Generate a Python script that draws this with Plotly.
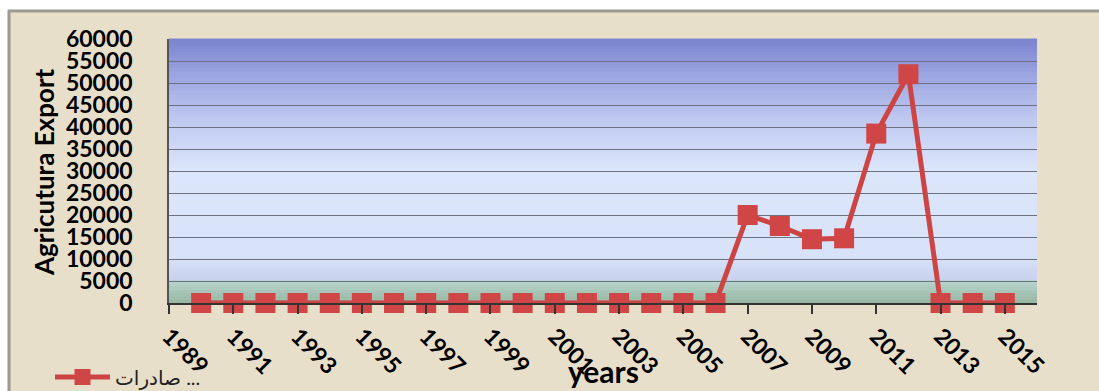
import plotly.graph_objects as go

years = [1990, 1991, 1992, 1993, 1994, 1995, 1996, 1997, 1998, 1999, 2000,
         2001, 2002, 2003, 2004, 2005, 2006, 2007, 2008, 2009, 2010, 2011,
         2012, 2013, 2014, 2015]
exports = [0, 0, 0, 0, 0, 0, 0, 0, 0, 0, 0,
           0, 0, 0, 0, 0, 0, 20000, 17500, 14500, 14700, 38500,
           52000, 0, 0, 0]
tick_years = [1989, 1991, 1993, 1995, 1997, 1999, 2001, 2003, 2005, 2007,
              2009, 2011, 2013, 2015]
y_ticks = [0, 5000, 10000, 15000, 20000, 25000, 30000, 35000, 40000, 45000,
           50000, 55000, 60000]
series_name = "صادرات ..."
x_title = "years"
y_title = "Agricutura Export"

W, H = 1099, 391
L, R, T, B = 169, 62, 39, 88
PW, PH = W - L - R, H - T - B

def px_x(px):
    return (px - L) / PW

def px_y(py):
    return (H - B - py) / PH

# gradient of plot background (fraction from bottom, color)
stops = [(0.0, (150, 182, 160)), (0.08, (182, 212, 204)), (0.09, (200, 210, 238)),
         (0.18, (216, 226, 248)), (0.5, (220, 230, 251)), (0.7, (190, 200, 240)),
         (0.85, (158, 168, 226)), (1.0, (122, 132, 206))]

def color_at(f):
    for (f0, c0), (f1, c1) in zip(stops[:-1], stops[1:]):
        if f0 <= f <= f1:
            t = 0 if f1 == f0 else (f - f0) / (f1 - f0)
            return "rgb(%d,%d,%d)" % tuple(round(a + (b - a) * t) for a, b in zip(c0, c1))
    return "rgb(%d,%d,%d)" % stops[-1][1]

shapes = []
n = 80
for i in range(n):
    f0, f1 = i / n, (i + 1) / n
    shapes.append(dict(type="rect", xref="x domain", yref="y domain",
                       x0=0, x1=1, y0=f0, y1=f1 + 0.002, layer="below",
                       line=dict(width=0), fillcolor=color_at((f0 + f1) / 2)))
# white strips + gray frame
shapes.append(dict(type="rect", xref="paper", yref="paper", x0=px_x(0), x1=px_x(W),
                   y0=px_y(10), y1=px_y(0), layer="below", line=dict(width=0), fillcolor="white"))
shapes.append(dict(type="rect", xref="paper", yref="paper", x0=px_x(0), x1=px_x(8),
                   y0=px_y(H), y1=px_y(0), layer="below", line=dict(width=0), fillcolor="white"))
shapes.append(dict(type="line", xref="paper", yref="paper", x0=px_x(8), x1=px_x(W),
                   y0=px_y(11), y1=px_y(11), layer="below", line=dict(width=3, color="#9c9a90")))
shapes.append(dict(type="line", xref="paper", yref="paper", x0=px_x(9), x1=px_x(9),
                   y0=px_y(H), y1=px_y(10), layer="below", line=dict(width=3, color="#9c9a90")))

fig = go.Figure()
fig.add_trace(go.Scatter(
    x=years, y=exports, mode="lines+markers", name=series_name,
    line=dict(color="#cc4444", width=5),
    marker=dict(symbol="square", size=20, color="#d04646", line=dict(width=0)),
    cliponaxis=False,
))

fig.update_layout(
    width=W, height=H,
    margin=dict(l=L, r=R, t=T, b=B, autoexpand=False),
    paper_bgcolor="#e8dfcb",
    plot_bgcolor="#dce6fb",
    shapes=shapes,
    font=dict(family="Lato, 'DejaVu Sans', sans-serif", color="black"),
    showlegend=True,
    legend=dict(x=px_x(50), y=px_y(377), xanchor="left", yanchor="middle",
                bgcolor="rgba(0,0,0,0)", font=dict(size=20, color="#222"),
                itemwidth=55),
    xaxis=dict(
        range=[1989, 2016], tickvals=tick_years, ticktext=[str(v) for v in tick_years],
        tickangle=45, tickfont=dict(size=23, weight="bold"),
        ticks="outside", ticklen=9, tickcolor="#333", tickwidth=1.5,
        ticklabelstandoff=0, automargin=False,
        showgrid=False, zeroline=False, showline=True, linecolor="#333", linewidth=1.5,
    ),
    yaxis=dict(
        range=[0, 60000], tickvals=y_ticks, ticktext=[str(v) for v in y_ticks],
        tickfont=dict(size=23, weight="bold"),
        ticks="", ticklabelstandoff=30, automargin=False,
        showgrid=True, gridcolor="#6c7080", gridwidth=1.3,
        zeroline=False, showline=True, linecolor="#555", linewidth=1.5,
    ),
    annotations=[
        dict(text=x_title, xref="paper", yref="paper", x=0.5, y=px_y(371),
             xanchor="center", yanchor="middle", showarrow=False,
             font=dict(size=30, weight="bold", color="black")),
        dict(text=y_title, xref="paper", yref="paper", x=px_x(44), y=px_y(172),
             xanchor="center", yanchor="middle", showarrow=False, textangle=-90,
             font=dict(size=26, weight="bold", color="black")),
    ],
)

fig.write_html("out.html")
